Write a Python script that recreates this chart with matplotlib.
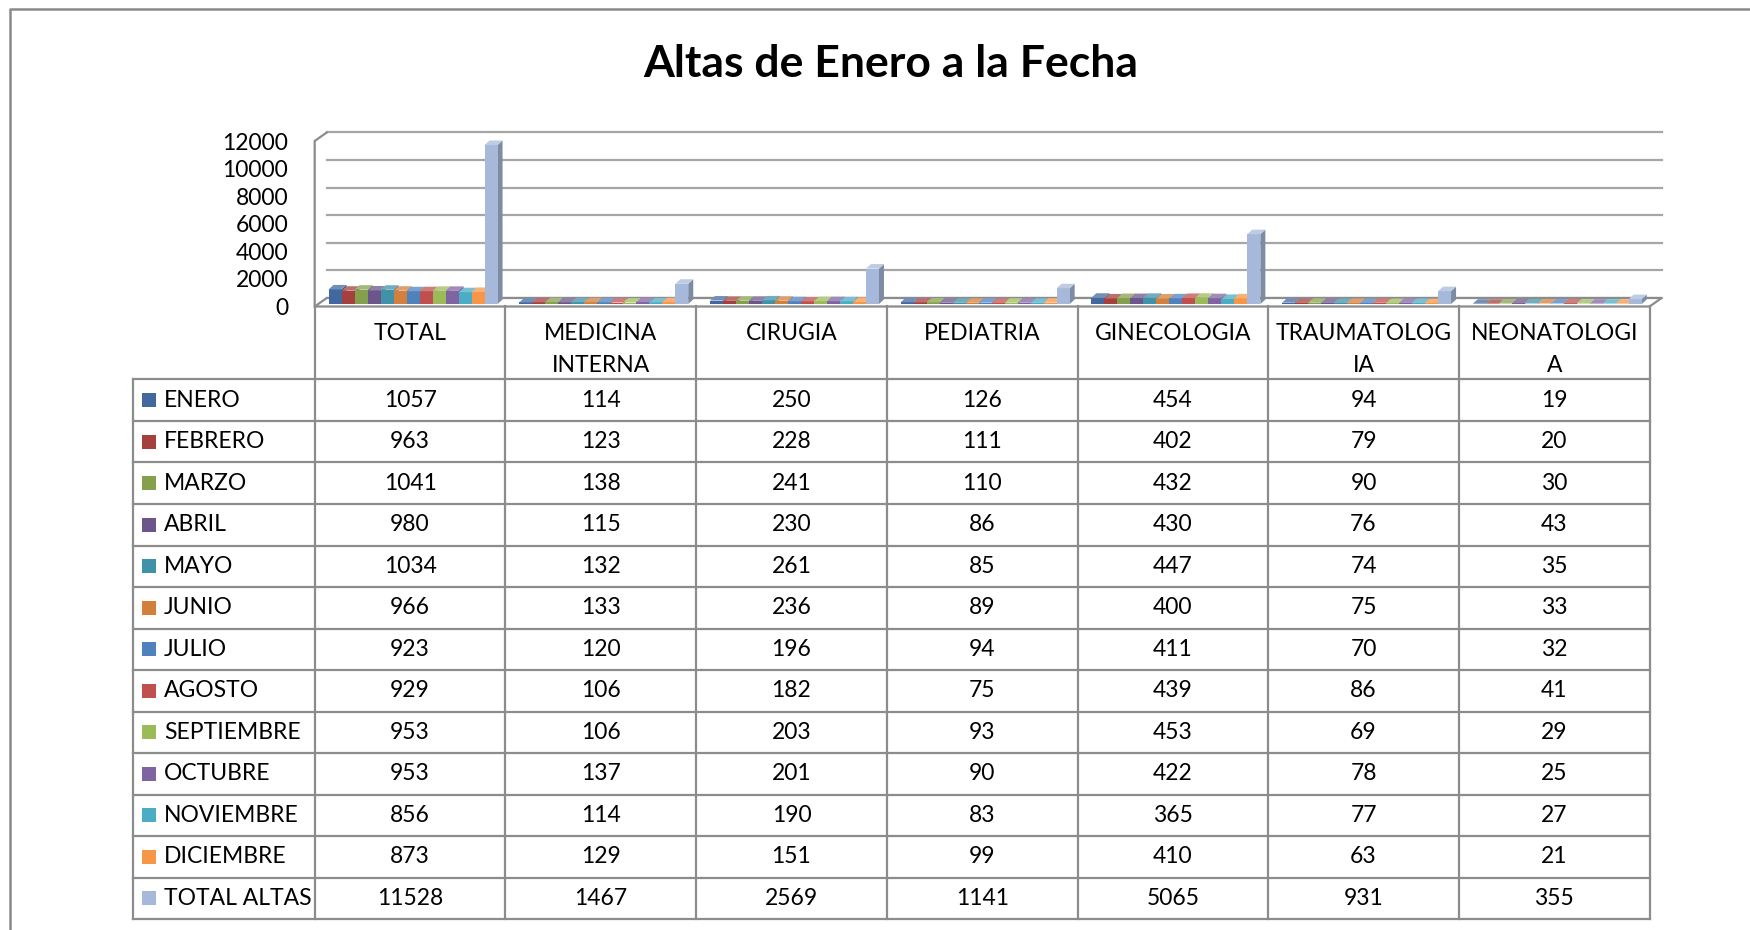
import matplotlib
matplotlib.use("Agg")
import matplotlib.pyplot as plt
from matplotlib.patches import Polygon, Rectangle
from matplotlib.lines import Line2D
from matplotlib.colors import to_rgb

plt.rcParams['font.family'] = ['Lato', 'DejaVu Sans']

# data
categories = ["TOTAL", "MEDICINA\nINTERNA", "CIRUGIA", "PEDIATRIA", "GINECOLOGIA",
              "TRAUMATOLOG\nIA", "NEONATOLOGI\nA"]
series_names = ["ENERO", "FEBRERO", "MARZO", "ABRIL", "MAYO", "JUNIO", "JULIO", "AGOSTO",
                "SEPTIEMBRE", "OCTUBRE", "NOVIEMBRE", "DICIEMBRE", "TOTAL ALTAS"]
enero = [1057, 114, 250, 126, 454, 94, 19]
febrero = [963, 123, 228, 111, 402, 79, 20]
marzo = [1041, 138, 241, 110, 432, 90, 30]
abril = [980, 115, 230, 86, 430, 76, 43]
mayo = [1034, 132, 261, 85, 447, 74, 35]
junio = [966, 133, 236, 89, 400, 75, 33]
julio = [923, 120, 196, 94, 411, 70, 32]
agosto = [929, 106, 182, 75, 439, 86, 41]
septiembre = [953, 106, 203, 93, 453, 69, 29]
octubre = [953, 137, 201, 90, 422, 78, 25]
noviembre = [856, 114, 190, 83, 365, 77, 27]
diciembre = [873, 129, 151, 99, 410, 63, 21]
total_altas = [11528, 1467, 2569, 1141, 5065, 931, 355]
series = [enero, febrero, marzo, abril, mayo, junio, julio, agosto, septiembre,
          octubre, noviembre, diciembre, total_altas]
colors = ['#4169A0', '#A4403D', '#84A04C', '#6C558A', '#4092A8', '#D2803C',
          '#4F81BD', '#C0504D', '#9BBB59', '#8064A2', '#4BACC6', '#F79646', '#A7B9DA']
yticks = [0, 2000, 4000, 6000, 8000, 10000, 12000]


def shade(c, f):
    return tuple(min(1, v * f) for v in to_rgb(c))


def tint(c, t):
    return tuple(v + (1 - v) * t for v in to_rgb(c))


W, H = 1750, 930
fig = plt.figure(figsize=(W / 100, H / 100), dpi=100)
grid_col = '#a6a6a6'
line_col = '#8c8c8c'
fs = 16.5

# chart (front plane, pixel layout)
ax = fig.add_axes([314.7 / W, (H - 306.5) / H, (1649.6 - 314.7) / W, (306.5 - 141) / H])
ax.set_xlim(0, 7)
ax.set_ylim(0, 12000)
for s in ax.spines.values():
    s.set_visible(False)
ax.set_xticks([])
ax.set_yticks(yticks)
ax.set_yticklabels([str(v) for v in yticks], fontsize=fs)
ax.tick_params(axis='y', length=0, pad=19)
ax.patch.set_visible(False)

cx = 7 / (1649.6 - 314.7)
cy = 12000 / (306.5 - 141)
dxw, dyw = 12 * cx, 8.5 * cy     # wall depth
box, boy = 3 * cx, 2.5 * cy      # bar position in depth
bdx, bdy = 5 * cx, 4.5 * cy      # bar depth

for v in yticks:
    ax.plot([dxw, 7 + dxw], [v + dyw, v + dyw], color=grid_col, lw=1.6, clip_on=False, zorder=1)
ax.add_patch(Polygon([(0, 0), (7, 0), (7 + dxw, dyw), (dxw, dyw)], closed=True,
                     facecolor='white', edgecolor=line_col, lw=1.6, clip_on=False, zorder=1.5))
ax.plot([0, 0, dxw], [0, 12000, 12000 + dyw], color=line_col, lw=1.6, clip_on=False, zorder=1.5)

n = len(series)
w = 13 * cx
margin = (1 - n * w) / 2
for s, (vals, col) in enumerate(zip(series, colors)):
    xs = [c + margin + s * w + box for c in range(len(categories))]
    ax.bar(xs, vals, width=w, bottom=boy, align='edge', color=col, lw=0,
           clip_on=False, zorder=3 + s + 0.3)
    for x0, v in zip(xs, vals):
        top = v + boy
        ax.add_patch(Polygon([(x0 + w, boy), (x0 + w, top), (x0 + w + bdx, top + bdy),
                              (x0 + w + bdx, boy + bdy)], closed=True, facecolor=shade(col, 0.75),
                             lw=0, clip_on=False, zorder=3 + s))
        ax.add_patch(Polygon([(x0, top), (x0 + w, top), (x0 + w + bdx, top + bdy),
                              (x0 + bdx, top + bdy)], closed=True, facecolor=tint(col, 0.25),
                             lw=0, clip_on=False, zorder=3 + s + 0.6))

# data table
legw = (314.7 - 132.8) / 190.7
head = (379.5 - 306.5) / 41.5
nrows = len(series)
ytop = nrows + head
tb = fig.add_axes([132.8 / W, (H - 919) / H, (1649.6 - 132.8) / W, (919 - 306.5) / H])
tb.set_xlim(-legw, 7)
tb.set_ylim(0, ytop)
tb.axis('off')

for r in range(nrows + 1):
    tb.plot([-legw, 7], [r, r], color=line_col, lw=1.6, clip_on=False)
for c in range(8):
    tb.plot([c, c], [0, ytop], color=line_col, lw=1.6, clip_on=False)
tb.plot([-legw, -legw], [0, nrows], color=line_col, lw=1.6, clip_on=False)

y1 = ytop - (333.5 - 306.5) / 41.5
y2 = ytop - (365.5 - 306.5) / 41.5
for c, lab in enumerate(categories):
    parts = lab.split("\n")
    tb.text(c + 0.5, y1, parts[0], ha='center', va='center', fontsize=fs)
    if len(parts) > 1:
        tb.text(c + 0.5, y2, parts[1], ha='center', va='center', fontsize=fs)

for i, (name, vals, col) in enumerate(zip(series_names, series, colors)):
    yc = nrows - i - 0.5
    tb.add_patch(Rectangle((-legw + 9.5 / 190.7, yc - 7 / 41.5), 14 / 190.7, 14 / 41.5,
                           facecolor=col, lw=0))
    tb.text(-legw + 31 / 190.7, yc, name, ha='left', va='center', fontsize=fs)
    for c, v in enumerate(vals):
        tb.text(c + 0.5, yc, str(v), ha='center', va='center', fontsize=fs)

# title and outer frame
fig.text(891 / W, 1 - 64 / H, "Altas de Enero a la Fecha", ha='center', va='center',
         fontsize=32, fontweight='bold')
fig.add_artist(Line2D([9.5 / W, 9.5 / W, 1], [0, 1 - 9.5 / H, 1 - 9.5 / H],
                      transform=fig.transFigure, color='#8a8a8a', lw=1.8))

fig.savefig("out.png", dpi=100)
